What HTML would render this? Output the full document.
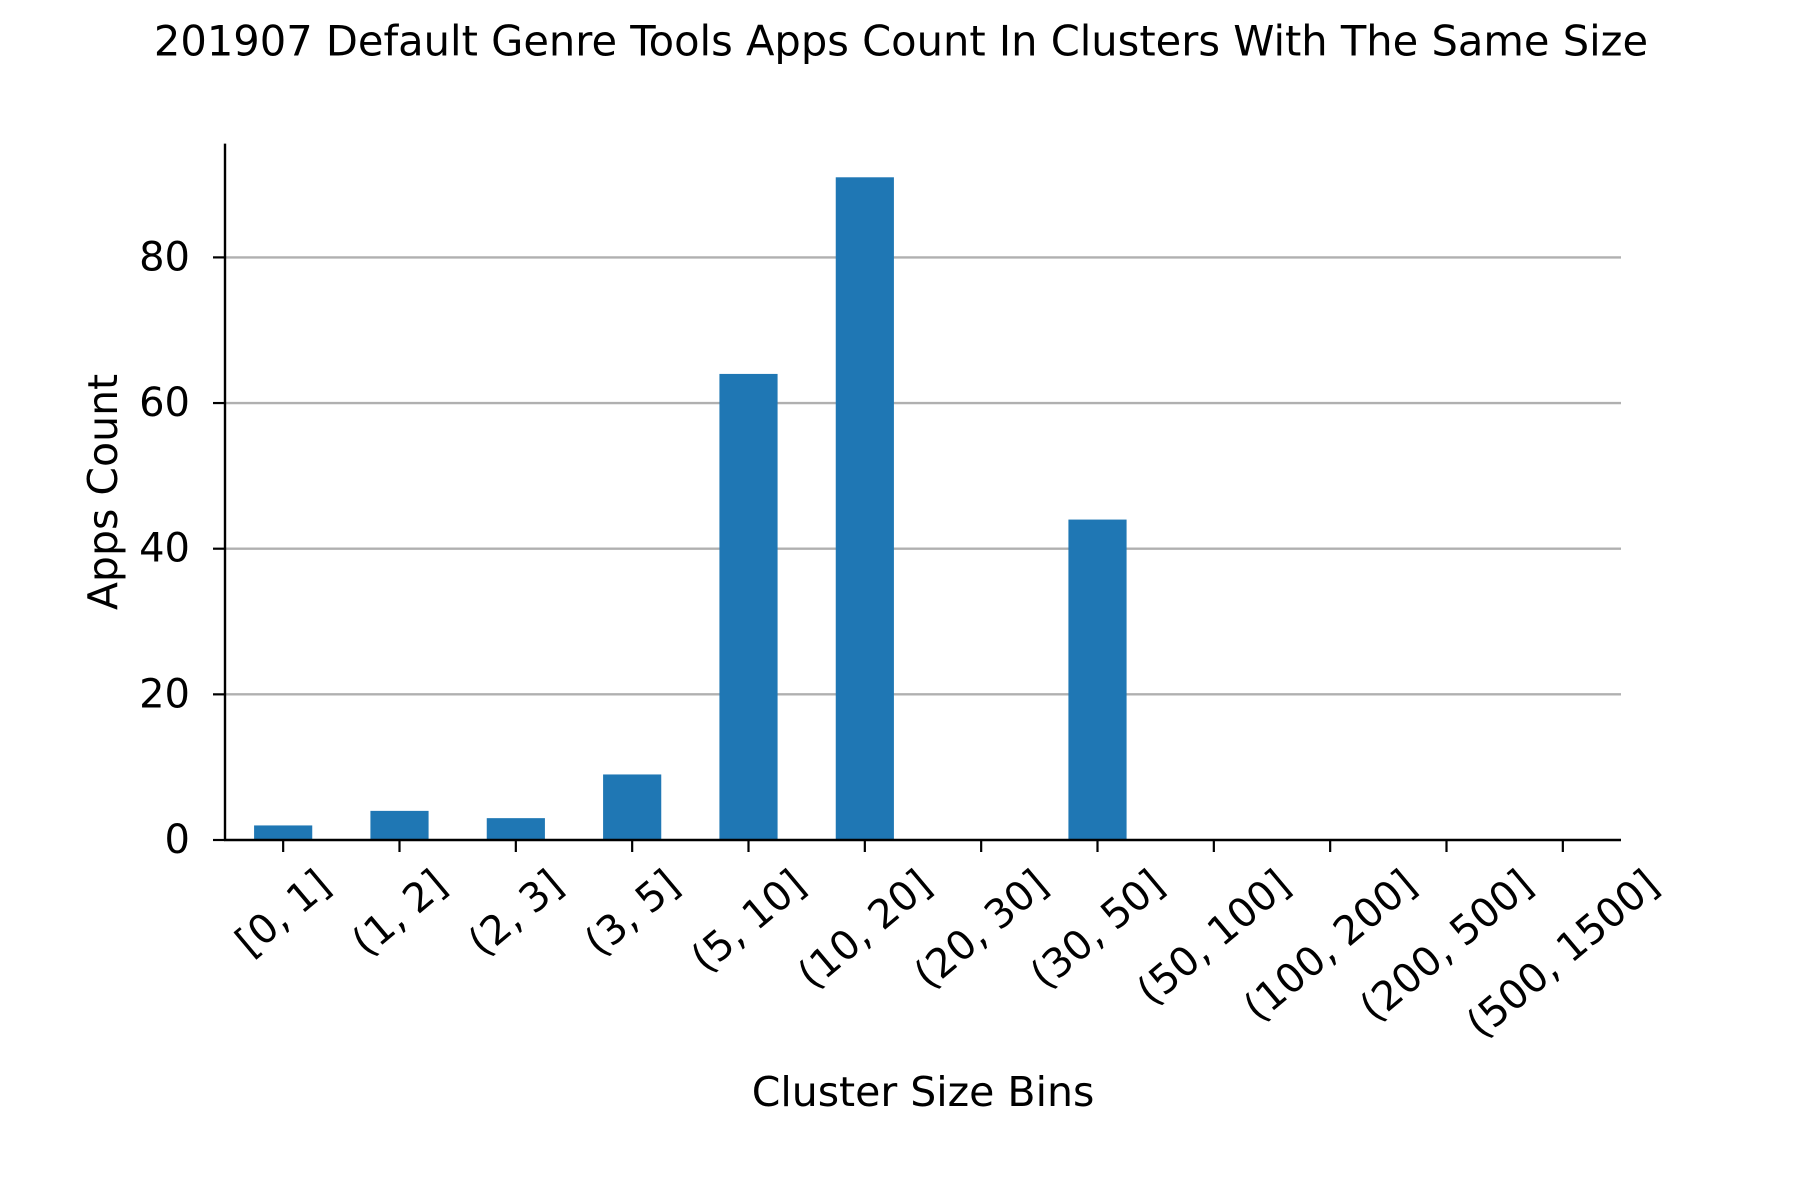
<!DOCTYPE html>
<html><head><meta charset="utf-8"><style>
html,body{margin:0;padding:0;background:#fff;}
svg{display:block;font-family:"DejaVu Sans","Liberation Sans",sans-serif;}
</style></head><body>
<svg id="chart" width="1800" height="1200" viewBox="0 0 1800 1200">
<text x="901" y="41" font-size="41.6" text-anchor="middle" dominant-baseline="central">201907 Default Genre Tools Apps Count In Clusters With The Same Size</text>
<g id="grid"></g>
<g id="bars"></g>
<g id="yaxis"></g>
<g id="xaxis"></g>
<text transform="translate(103,492) rotate(-90)" font-size="41" text-anchor="middle" dominant-baseline="central">Apps Count</text>
<text x="923" y="1092" font-size="41" text-anchor="middle" dominant-baseline="central">Cluster Size Bins</text>
</svg>
<script>
const categories=["[0, 1]","(1, 2]","(2, 3]","(3, 5]","(5, 10]","(10, 20]","(20, 30]","(30, 50]","(50, 100]","(100, 200]","(200, 500]","(500, 1500]"];
const values=[2,4,3,9,64,91,0,44,0,0,0,0];
const yTicks=[0,20,40,60,80];
const NS="http://www.w3.org/2000/svg";
const L=225,R=1621,B=840,T=143.6;
const yPer=(840-257.4)/80;
function xs(i){return L+(i+0.5)*(R-L)/categories.length;}
function ys(v){return B-v*yPer;}
function mk(tag,attrs,parent){const e=document.createElementNS(NS,tag);for(const k in attrs)e.setAttribute(k,attrs[k]);parent.appendChild(e);return e;}
const grid=document.getElementById('grid'),bars=document.getElementById('bars'),ya=document.getElementById('yaxis'),xa=document.getElementById('xaxis');
yTicks.forEach(v=>{
  if(v>0){const g=mk('line',{x1:L,x2:R,y1:ys(v),y2:ys(v),stroke:'#b0b0b0','stroke-width':2.4},grid);
  
  }
  const t=mk('line',{x1:L-12,x2:L,y1:ys(v),y2:ys(v),stroke:'#000','stroke-width':2.2},ya);
  
  
  const tx=mk('text',{x:L-35,y:ys(v),'font-size':40,'text-anchor':'end','dominant-baseline':'central'},ya);
  tx.textContent=v;
  
  
});
const bw=0.5*(R-L)/categories.length;
values.forEach((v,i)=>{
  if(v>0){const r=mk('rect',{x:xs(i)-bw/2,y:ys(v),width:bw,height:B-ys(v),fill:'#1f77b4'},bars);
  
  }
});
const sp=mk('line',{x1:L,x2:L,y1:T,y2:B+1,stroke:'#000','stroke-width':2.4},ya);


const sb=mk('line',{x1:L-1,x2:R,y1:B,y2:B,stroke:'#000','stroke-width':2.4},xa);


const ang=40*Math.PI/180;
categories.forEach((c,i)=>{
  const t=mk('line',{x1:xs(i),x2:xs(i),y1:B,y2:B+12,stroke:'#000','stroke-width':2.2},xa);
  
  
  const tx=mk('text',{'font-size':40,'text-anchor':'middle','dominant-baseline':'central'},xa);
  tx.textContent=c;
  
  
  const w=tx.getComputedTextLength(),h=40*1.1;
  const bh=w*Math.sin(ang)+h*Math.cos(ang);
  const cy=B+22+bh/2;
  tx.setAttribute('transform','translate('+xs(i)+','+cy+') rotate(-40)');
});
</script>
</body></html>
